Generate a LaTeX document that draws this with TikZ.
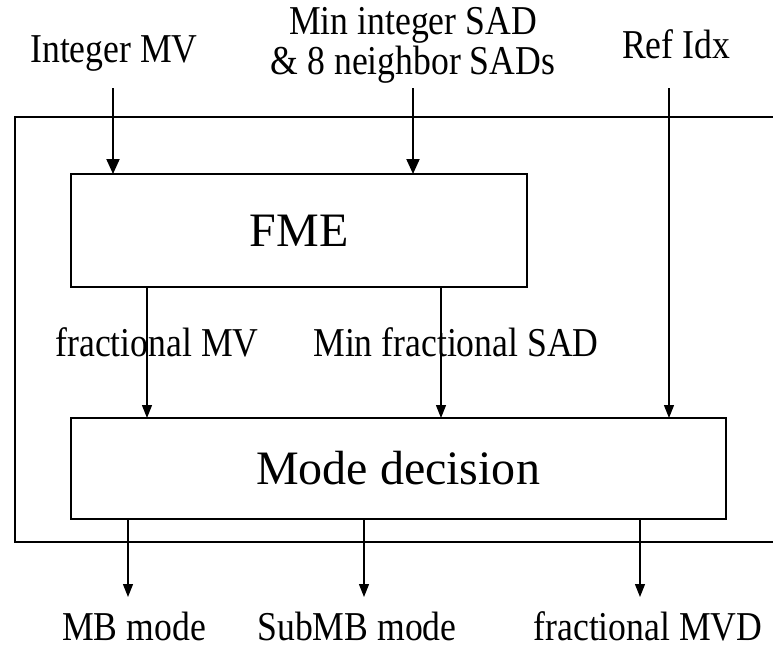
\documentclass[tikz,border=0pt]{standalone}
\usepackage{fontspec}
\setmainfont{Liberation Serif}
\newfontfamily\narrowserif[FakeStretch=0.87]{Liberation Serif}
\usetikzlibrary{arrows.meta}
\begin{document}
\begin{tikzpicture}[x=1pt,y=-1pt,
  lbl/.style={font=\narrowserif\fontsize{41}{40}\selectfont, inner sep=0pt, anchor=base},
  title/.style={inner sep=0pt, font=\fontsize{48}{52}\selectfont},
  box/.style={line width=1.2pt},
  flow/.style={line width=1.2pt, -{Triangle[length=13pt,width=10pt]}},
  main flow/.style={line width=2pt, -{Triangle[length=15pt,width=13pt]}}]
\useasboundingbox (0,0) rectangle (773,648);

% outer frame, open on the right
\draw[line width=1.5pt] (775,117) -| (15,542) -- (775,542);

% blocks
\draw[box] (71,174) rectangle (527,287);
\node[title] (fme) at (299,231) {FME};
\draw[box] (71,418) rectangle (726,519);
\node[title] (md) at (398,468) {Mode decision};

% input labels
\node[lbl] (imv) at (114,62) {Integer MV};
\node[lbl, align=center] (msad) at (413,74) {Min integer SAD\\\& 8 neighbor SADs};
\node[lbl] (ref) at (676,58) {Ref Idx};

% intermediate labels
\node[lbl] (fmv) at (157,356) {fractional MV};
\node[lbl] (fsad) at (456,356) {Min fractional SAD};

% output labels
\node[lbl] (mbm) at (134,640) {MB mode};
\node[lbl] (smb) at (357,640) {SubMB mode};
\node[lbl] (fmvd) at (648,640) {fractional MVD};

% arrow ends
\coordinate (a1) at (113,88);  \coordinate (a1e) at (113,174);
\coordinate (a2) at (413,88);  \coordinate (a2e) at (413,174);
\coordinate (a3) at (669,88);  \coordinate (a3e) at (669,418);
\coordinate (b1) at (147,287); \coordinate (b1e) at (147,418);
\coordinate (b2) at (441,287); \coordinate (b2e) at (441,418);
\coordinate (c1) at (128,519); \coordinate (c1e) at (128,597);
\coordinate (c2) at (364,519); \coordinate (c2e) at (364,597);
\coordinate (c3) at (640,519); \coordinate (c3e) at (640,597);

\draw[main flow] (a1) -- (a1e);
\draw[main flow] (a2) -- (a2e);
\draw[flow] (a3) -- (a3e);
\draw[flow] (b1) -- (b1e);
\draw[flow] (b2) -- (b2e);
\draw[flow] (c1) -- (c1e);
\draw[flow] (c2) -- (c2e);
\draw[flow] (c3) -- (c3e);
\end{tikzpicture}
\end{document}
